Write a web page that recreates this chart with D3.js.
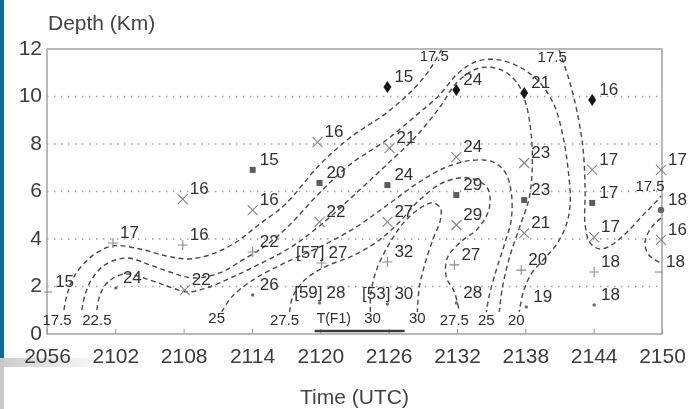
<!DOCTYPE html>
<html lang="en">
<head>
<meta charset="UTF-8">
<title>Depth - time section</title>
<script src="https://d3js.org/d3.v7.min.js"></script>
<style>
  body { margin: 0; background: #fff; }
  svg { display: block; font-family: "Liberation Sans", Arial, Helvetica, sans-serif; }
  .tick text { fill: #3c3c3c; font-size: 21px; }
  .tick line { stroke: #9a9a9a; }
</style>
</head>
<body>
<div id="chart"></div>
<script>
// x = minutes after 20:56 UTC, y = depth in km
var timeTicks = [0, 6, 12, 18, 24, 30, 36, 42, 48, 54];
var timeLabels = ["2056", "2102", "2108", "2114", "2120", "2126", "2132", "2138", "2144", "2150"];
var depthTicks = [0, 2, 4, 6, 8, 10, 12];

// [minutes, depth, value, marker, bracket note]
var observations = [
  [0.1, 1.77, 15, "dash"],
  [5.79, 3.83, 17, "plus"],
  [6.05, 1.94, 24, "dot"],
  [11.92, 5.68, 16, "x"],
  [11.92, 3.75, 16, "plus"],
  [12.1, 1.85, 22, "x"],
  [18.06, 6.91, 15, "square"],
  [18.06, 5.22, 16, "x"],
  [18.06, 3.45, 22, "plus"],
  [18.06, 1.64, 26, "dot"],
  [23.76, 8.08, 16, "x"],
  [23.93, 6.36, 20, "square"],
  [23.93, 4.72, 22, "x"],
  [24.1, 2.99, 27, "plus", "[57]"],
  [23.93, 1.31, 28, "dot", "[59]"],
  [29.89, 10.4, 15, "diamond"],
  [30.07, 7.83, 21, "x"],
  [29.89, 6.27, 24, "square"],
  [29.89, 4.72, 27, "x"],
  [29.89, 3.03, 32, "plus"],
  [29.89, 1.26, 30, "dot", "[53]"],
  [35.94, 10.27, 24, "diamond"],
  [35.94, 7.45, 24, "x"],
  [35.94, 5.85, 29, "square"],
  [35.94, 4.59, 29, "x"],
  [35.77, 2.91, 27, "plus"],
  [35.94, 1.31, 28, "dot"],
  [41.9, 10.15, 21, "diamond"],
  [41.9, 7.2, 23, "x"],
  [41.9, 5.64, 23, "square"],
  [41.9, 4.25, 21, "x"],
  [41.64, 2.69, 20, "plus"],
  [42.08, 1.14, 19, "dot"],
  [47.87, 9.85, 16, "diamond"],
  [47.87, 6.91, 17, "x"],
  [47.87, 5.52, 17, "square"],
  [48.04, 4.08, 17, "x"],
  [48.04, 2.61, 18, "plus"],
  [48.04, 1.22, 18, "dot"],
  [53.91, 6.91, 17, "x"],
  [53.91, 5.22, 18, "circle"],
  [53.91, 3.96, 16, "x"],
  [53.74, 2.61, 18, "dash"]
];

// hand drawn isolines, [minutes, depth]
var contour17_5 = [
  [1.49, 1.01], [1.75, 1.64], [2.45, 2.48], [3.95, 3.28], [5.79, 3.71], [8.15, 3.58],
  [10.52, 3.28], [12.36, 3.16], [14.29, 3.33], [16.48, 3.83], [18.67, 4.63], [20.86, 5.43],
  [23.93, 7.12], [26.56, 8.25], [29.81, 9.31], [32.09, 10.27], [33.58, 11.12], [34.63, 11.96]
];
var contour17_5East = [
  [44.97, 11.96], [45.85, 10.69], [46.55, 9.35], [47.08, 7.75], [47.25, 6.06], [47.25, 4.59],
  [47.69, 3.83], [48.57, 3.58], [49.71, 3.79], [51.11, 4.38], [52.42, 5.05], [53.39, 5.52], [53.91, 5.81]
];
var contour17_5Edge = [
  [53.91, 4.88], [53.04, 4.46], [52.51, 3.87], [52.77, 3.37], [53.39, 3.12], [53.91, 2.99]
];
var contour20 = [
  [3.07, 1.01], [3.33, 1.64], [3.95, 2.32], [5.08, 2.91], [7.01, 3.2], [9.03, 2.91],
  [11.05, 2.57], [12.8, 2.36], [15.17, 2.57], [17.18, 3.12], [19.29, 3.75], [21.3, 4.59],
  [23.93, 5.94], [26.56, 7.12], [29.81, 8.17], [32.26, 9.14], [34.45, 10.06], [36.03, 10.95],
  [37.78, 11.49], [39.71, 11.54], [41.64, 11.2], [43.22, 10.61], [44.53, 9.64], [45.32, 8.29],
  [45.76, 6.91], [45.94, 5.52], [45.59, 4.59], [44.71, 3.75], [43.57, 3.12], [42.52, 2.53],
  [41.82, 1.77], [41.47, 0.93]
];
var contour22_5 = [
  [4.38, 1.01], [4.65, 1.64], [5.35, 2.19], [6.84, 2.53], [9.03, 2.27], [10.78, 1.98],
  [12.36, 1.77], [14.03, 1.94], [16.31, 2.4], [18.67, 2.95], [21.3, 3.62], [23.93, 4.55],
  [27.44, 6.06], [30.07, 7.24], [32.26, 8.25], [34.45, 9.52], [36.03, 10.61], [37.96, 11.2],
  [39.89, 11.12], [41.29, 10.57], [42.08, 9.64], [42.52, 8.38], [42.6, 6.91], [42.34, 5.73],
  [41.47, 4.46], [40.59, 3.2], [39.98, 1.94], [39.71, 0.93]
];
var contour25 = [
  [15.34, 0.93], [16.22, 1.56], [18.06, 2.27], [20.86, 2.99], [23.93, 3.66], [27.0, 4.46],
  [29.89, 5.43], [32.7, 6.4], [34.89, 6.99], [37.08, 7.3], [39.1, 7.26], [40.24, 6.8],
  [40.76, 5.97], [40.76, 4.8], [40.15, 3.75], [39.45, 2.7], [38.84, 1.64], [38.57, 0.93]
];
var contour27_5 = [
  [21.3, 0.93], [21.57, 1.56], [22.62, 2.27], [24.37, 2.82], [27.0, 3.33], [29.2, 3.96],
  [30.95, 4.72], [32.7, 5.64], [34.89, 6.4], [37.08, 6.57], [38.66, 6.15], [38.84, 5.31],
  [37.87, 4.46], [36.21, 3.83], [35.15, 3.2], [35.06, 2.4], [35.77, 1.77], [36.21, 0.93]
];
var contour30 = [
  [28.4, 0.93], [28.4, 1.56], [28.84, 2.57], [29.89, 3.66], [31.38, 4.72], [32.79, 5.31],
  [33.84, 5.52], [34.54, 5.31], [34.54, 4.8], [33.93, 4.04], [33.23, 3.03], [32.7, 2.0], [32.52, 0.93]
];

// [text, minutes, depth]
var contourLabels = [
  ["17.5", 0.88, 0.59], ["22.5", 4.38, 0.59], ["25", 14.9, 0.67], ["27.5", 20.86, 0.59],
  ["30", 28.58, 0.67], ["30", 32.52, 0.67], ["27.5", 35.77, 0.59], ["25", 38.57, 0.59],
  ["20", 41.2, 0.59], ["17.5", 34.01, 11.7], ["17.5", 44.36, 11.66], ["17.5", 52.95, 6.23]
];
var flightLeg = { label: "T(F1)", start: 23.5, end: 31.4, depth: 0.13 };

var W = 691, H = 409;
var svg = d3.select("#chart").append("svg")
    .attr("width", W)
    .attr("height", H);

var defs = svg.append("defs");
defs.append("filter").attr("id", "soft")
    .append("feGaussianBlur").attr("stdDeviation", 0.45);
var fade = defs.append("linearGradient").attr("id", "fade");
fade.append("stop").attr("offset", "0%").attr("stop-color", "#cbcbcb");
fade.append("stop").attr("offset", "100%").attr("stop-color", "#ffffff");

// slide edge on the left
svg.append("rect").attr("x", 0).attr("y", 0).attr("width", 4).attr("height", 358).attr("fill", "#12699b");
svg.append("rect").attr("x", 0).attr("y", 358).attr("width", 110).attr("height", 9).attr("fill", "url(#fade)");
svg.append("rect").attr("x", 0).attr("y", 358).attr("width", 4).attr("height", 51).attr("fill", "#c9c9c9");

var x = d3.scaleLinear().domain([0, 54]).range([47, 662]);
var y = d3.scaleLinear().domain([0, 12]).range([334, 49]);

var g = svg.append("g").attr("filter", "url(#soft)");

// dotted grid
g.selectAll(".grid")
    .data(depthTicks.filter(function (d) { return d > 0 && d < 12; }))
    .enter().append("line")
    .attr("x1", x(0)).attr("x2", x(54))
    .attr("y1", function (d) { return y(d); })
    .attr("y2", function (d) { return y(d); })
    .attr("stroke", "#9c9c9c")
    .attr("stroke-width", 1.4)
    .attr("stroke-dasharray", "1.4,5.6");

g.append("rect")
    .attr("x", x(0)).attr("y", y(12))
    .attr("width", x(54) - x(0)).attr("height", y(0) - y(12))
    .attr("fill", "none")
    .attr("stroke", "#a2a2a2")
    .attr("stroke-width", 1.5);

g.append("g")
    .attr("transform", "translate(0," + y(0) + ")")
    .call(d3.axisBottom(x)
        .tickValues(timeTicks)
        .tickFormat(function (d, i) { return timeLabels[i]; })
        .tickSizeInner(-5).tickSizeOuter(0).tickPadding(14))
    .call(function (a) { a.select(".domain").remove(); });

g.append("g")
    .attr("transform", "translate(" + x(0) + ",0)")
    .call(d3.axisLeft(y).tickValues(depthTicks).tickSize(0).tickPadding(5))
    .call(function (a) {
        a.select(".domain").remove();
        a.selectAll(".tick text").attr("dy", "0.26em");
    });

g.append("text")
    .attr("x", 48).attr("y", 30)
    .attr("font-size", 21)
    .attr("fill", "#444")
    .text("Depth (Km)");

g.append("text")
    .attr("x", (x(0) + x(54)) / 2).attr("y", 404)
    .attr("text-anchor", "middle")
    .attr("font-size", 21)
    .attr("fill", "#444")
    .text("Time (UTC)");

// isolines
var line = d3.line()
    .x(function (d) { return x(d[0]); })
    .y(function (d) { return y(d[1]); })
    .curve(d3.curveCatmullRom.alpha(0.5));

var contours = [contour17_5, contour17_5East, contour17_5Edge, contour20, contour22_5, contour25, contour27_5, contour30];
g.selectAll(".contour")
    .data(contours)
    .enter().append("path")
    .attr("d", line)
    .attr("fill", "none")
    .attr("stroke", "#4a4a4a")
    .attr("stroke-width", 1.4)
    .attr("stroke-dasharray", "5,3.5");

g.selectAll(".clabel")
    .data(contourLabels)
    .enter().append("text")
    .attr("x", function (d) { return x(d[1]); })
    .attr("y", function (d) { return y(d[2]); })
    .attr("dy", "0.35em")
    .attr("text-anchor", "middle")
    .attr("font-size", 15)
    .attr("fill", "#2e2e2e")
    .text(function (d) { return d[0]; });

// flight leg marker
g.append("line")
    .attr("x1", x(flightLeg.start)).attr("x2", x(flightLeg.end))
    .attr("y1", y(flightLeg.depth)).attr("y2", y(flightLeg.depth))
    .attr("stroke", "#3a3a3a")
    .attr("stroke-width", 2.5);
g.append("text")
    .attr("x", x(flightLeg.start) + 2).attr("y", y(0.67))
    .attr("dy", "0.35em")
    .attr("font-size", 14)
    .attr("fill", "#2e2e2e")
    .text(flightLeg.label);

// observation markers
var obs = g.selectAll(".obs")
    .data(observations)
    .enter().append("g")
    .attr("transform", function (d) { return "translate(" + x(d[0]) + "," + y(d[1]) + ")"; });

obs.each(function (d) {
    var m = d3.select(this);
    if (d[3] === "diamond") {
        m.append("path").attr("d", "M0,-6L4,0L0,6L-4,0Z").attr("fill", "#151515");
    } else if (d[3] === "square") {
        m.append("rect").attr("x", -3).attr("y", -3).attr("width", 6).attr("height", 6).attr("fill", "#5c5c5c");
    } else if (d[3] === "x") {
        m.append("path").attr("d", "M-5,-5L5,5M-5,5L5,-5").attr("stroke", "#858585").attr("stroke-width", 1.1);
    } else if (d[3] === "plus") {
        m.append("path").attr("d", "M-5,0H5M0,-5V5").attr("stroke", "#8c8c8c").attr("stroke-width", 1.1);
    } else if (d[3] === "dot") {
        m.append("circle").attr("r", 1.7).attr("fill", "#6a6a6a");
    } else if (d[3] === "circle") {
        m.append("circle").attr("r", 3.2).attr("fill", "#666");
    } else {
        m.append("path").attr("d", "M-4,0H4").attr("stroke", "#8c8c8c").attr("stroke-width", 1.1);
    }
});

obs.append("text")
    .attr("x", 7).attr("y", -5)
    .attr("font-size", 17)
    .attr("fill", "#333")
    .text(function (d) { return d[2]; });

obs.filter(function (d) { return d[4]; })
    .append("text")
    .attr("x", 3).attr("y", -5)
    .attr("text-anchor", "end")
    .attr("font-size", 17)
    .attr("fill", "#333")
    .text(function (d) { return d[4]; });
</script>
</body>
</html>
